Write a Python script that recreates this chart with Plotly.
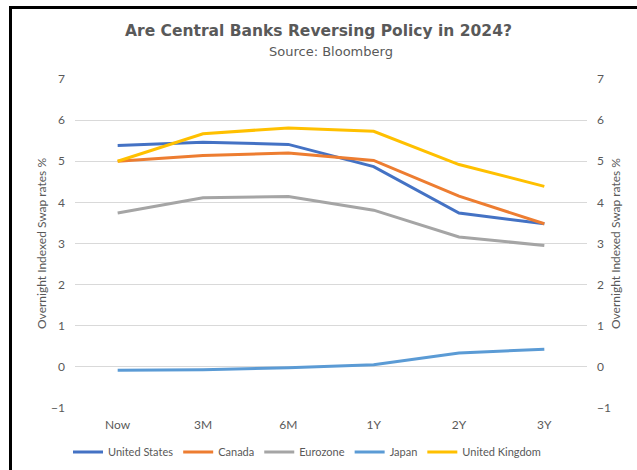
import plotly.graph_objects as go

categories = ["Now", "3M", "6M", "1Y", "2Y", "3Y"]
united_states = [5.38, 5.46, 5.41, 4.87, 3.74, 3.48]
canada = [5.00, 5.14, 5.20, 5.02, 4.15, 3.48]
eurozone = [3.74, 4.11, 4.14, 3.81, 3.16, 2.95]
japan = [-0.08, -0.07, -0.02, 0.05, 0.34, 0.43]
united_kingdom = [5.00, 5.67, 5.81, 5.73, 4.92, 4.39]
y_ticks = [-1, 0, 1, 2, 3, 4, 5, 6, 7]

series = [
    ("United States", united_states, "#4472C4"),
    ("Canada", canada, "#ED7D31"),
    ("Eurozone", eurozone, "#A5A5A5"),
    ("Japan", japan, "#5B9BD5"),
    ("United Kingdom", united_kingdom, "#FFC000"),
]

FONT = "Lato, 'Open Sans', sans-serif"
TFONT = "'DejaVu Sans', 'Open Sans', sans-serif"
GREY = "#595959"
W, H = 637, 470
ML, MR, MT, MB = 75, 50, 79, 61.5

fig = go.Figure()
for name, vals, col in series:
    fig.add_trace(go.Scatter(x=categories, y=vals, name=name, mode="lines",
                             line=dict(color=col, width=3)))
# invisible trace so the right-hand axis is drawn
fig.add_trace(go.Scatter(x=categories, y=united_states, yaxis="y2", mode="lines",
                         line=dict(width=0), opacity=0, showlegend=False, hoverinfo="skip"))

yax = dict(range=[-1, 7], tickmode="array", tickvals=y_ticks,
           gridcolor="#D9D9D9", gridwidth=1,
           zeroline=False, showline=False, ticks="", automargin=False,
           ticklabelstandoff=9,
           tickfont=dict(family=FONT, size=12, color=GREY),
           title=dict(text="Overnight Indexed Swap rates %",
                      font=dict(family=FONT, size=12, color=GREY), standoff=1))

fig.update_layout(
    width=W, height=H,
    margin=dict(l=ML, r=MR, t=MT, b=MB, pad=0, autoexpand=False),
    paper_bgcolor="white", plot_bgcolor="white",
    font=dict(family=FONT, color=GREY),
    xaxis=dict(type="category", range=[-0.5, 5.5], showgrid=False, showline=False,
               zeroline=False, ticks="", automargin=False, ticklabelstandoff=8,
               tickfont=dict(family=FONT, size=12, color=GREY)),
    yaxis=dict(yax, side="left", showgrid=True),
    yaxis2=dict(yax, side="right", overlaying="y", showgrid=False),
    showlegend=True,
    legend=dict(orientation="h", x=307 / W, xanchor="center", xref="container",
                y=1 - 452 / H, yanchor="middle", yref="container",
                font=dict(family=FONT, size=11, color=GREY), itemwidth=30,
                traceorder="normal"),
)

pw = W - ML - MR
ph = H - MT - MB
def px(x):
    return (x - ML) / pw
def py(y):
    return (H - MB - y) / ph

fig.add_annotation(text="<b>Are Central Banks Reversing Policy in 2024?</b>",
                   xref="paper", yref="paper", x=px(318), y=py(31), xanchor="center",
                   yanchor="middle", showarrow=False,
                   font=dict(family=TFONT, size=15.5, color=GREY))
fig.add_annotation(text="Source: Bloomberg",
                   xref="paper", yref="paper", x=px(331), y=py(51), xanchor="center",
                   yanchor="middle", showarrow=False,
                   font=dict(family=TFONT, size=13, color=GREY))

# black frame (left and top edges of the screenshot border)
fig.add_shape(type="rect", xref="paper", yref="paper", x0=px(9), x1=px(12),
              y0=py(6), y1=py(472), line=dict(width=0), fillcolor="black")
fig.add_shape(type="rect", xref="paper", yref="paper", x0=px(9), x1=px(637),
              y0=py(6), y1=py(9), line=dict(width=0), fillcolor="black")

fig.write_html("out.html", config={"displayModeBar": False},
               post_script="document.body.style.margin='0';document.body.style.overflow='hidden';")
